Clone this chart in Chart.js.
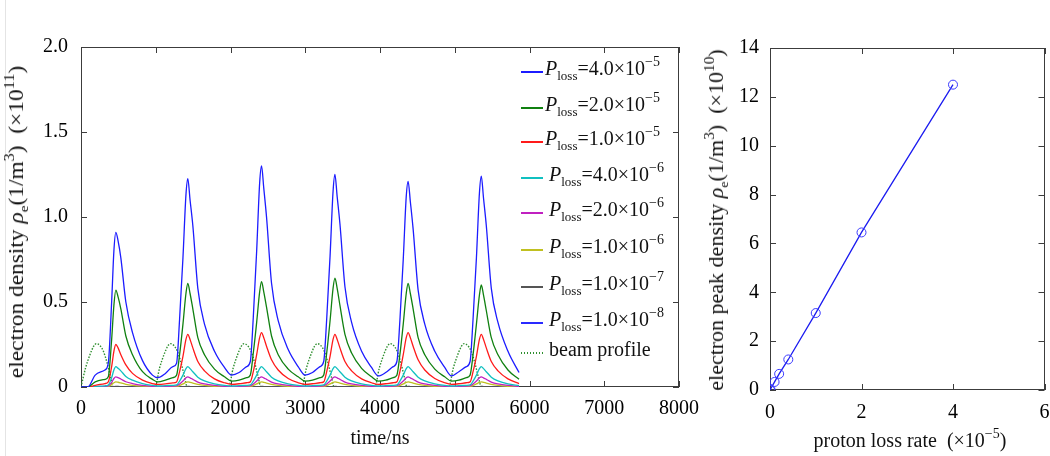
<!DOCTYPE html>
<html>
<head>
<meta charset="utf-8">
<script src="https://cdn.jsdelivr.net/npm/chart.js@4.4.1/dist/chart.umd.min.js"></script>
<style>
  body { margin: 0; background: #fff; }
  #wrap { position: relative; width: 1050px; height: 456px; overflow: hidden; background: #fff;
          font-family: 'Liberation Serif', 'Times New Roman', serif; color: #111; }
  canvas { position: absolute; top: 0; }
  .edge { position: absolute; left: 5px; top: 0; width: 1px; height: 456px; background: #e4e4e4; }
  .title { position: absolute; font-size: 20px; white-space: nowrap; line-height: 20px; }
  .hx { transform: translate(-50%, -50%); }
  sub { font-size: 13px; position: relative; top: 5px; vertical-align: baseline; line-height: 0; }
  sup { font-size: 14px; position: relative; top: -9px; vertical-align: baseline; line-height: 0; }
  .legend-row { position: absolute; font-size: 20px; line-height: 20px; white-space: nowrap; }
  .legend-line { position: absolute; width: 22px; height: 1.5px; }
</style>
</head>
<body>
<div id="wrap">
  <div class="edge"></div>
  <canvas id="densityChart" width="700" height="456" style="left:0"></canvas>
  <canvas id="peakChart" width="350" height="456" style="left:700px"></canvas>
  <div class="title" style="left:16px; top:222px; transform: translate(-50%, -50%) rotate(-90deg) scaleX(1.17)">electron density <i>ρ</i><sub>e</sub>(1/m<sup>3</sup>) &nbsp;(×10<sup>11</sup>)</div>
  <div class="title hx" style="left:380px; top:437px">time/ns</div>
  <div class="title" style="left:716px; top:220px; transform: translate(-50%, -50%) rotate(-90deg) scaleX(1.1)">electron peak density <i>ρ</i><sub>e</sub>(1/m<sup>3</sup>) &nbsp;(×10<sup>10</sup>)</div>
  <div class="title hx" style="left:910px; top:440px">proton loss rate &nbsp;(×10<sup>−5</sup>)</div>
  <div id="legend"></div>
</div>
<script>
// time axis shared by the electron density curves (ns)
const timeNs = [
  0, 90, 190, 320, 365, 410, 440, 466, 496, 533, 600, 689, 823, 956,
  1029, 1129, 1229, 1279, 1319, 1364, 1404, 1429, 1459, 1496, 1563, 1652, 1786, 1919,
  2015, 2115, 2215, 2265, 2305, 2350, 2390, 2415, 2445, 2482, 2549, 2638, 2772, 2905,
  2997, 3097, 3197, 3247, 3287, 3332, 3372, 3397, 3427, 3464, 3531, 3620, 3754, 3887,
  3976, 4076, 4176, 4226, 4266, 4311, 4351, 4376, 4406, 4443, 4510, 4599, 4733, 4866,
  4955, 5055, 5155, 5205, 5245, 5290, 5330, 5355, 5385, 5422, 5489, 5578, 5712, 5860
];

// electron density (x1e11 1/m^3) for each proton loss rate
const density4e5 = [
  0, 0, 0.07, 0.10, 0.14, 0.50, 0.80, 0.91, 0.86, 0.76, 0.50, 0.32, 0.155, 0.07,
  0.055, 0.08, 0.12, 0.14, 0.40, 0.76, 1.13, 1.225, 1.10, 0.95, 0.58, 0.37, 0.21, 0.115,
  0.07, 0.085, 0.12, 0.15, 0.41, 0.80, 1.20, 1.30, 1.17, 1.00, 0.61, 0.39, 0.22, 0.12,
  0.07, 0.085, 0.12, 0.15, 0.40, 0.77, 1.15, 1.25, 1.12, 0.96, 0.59, 0.38, 0.21, 0.115,
  0.065, 0.085, 0.12, 0.15, 0.39, 0.75, 1.12, 1.21, 1.09, 0.93, 0.57, 0.37, 0.21, 0.115,
  0.065, 0.09, 0.12, 0.15, 0.40, 0.76, 1.14, 1.24, 1.11, 0.95, 0.58, 0.38, 0.21, 0.085
];
const density2e5 = [
  0, 0, 0.03, 0.045, 0.06, 0.28, 0.48, 0.57, 0.53, 0.46, 0.30, 0.19, 0.09, 0.045,
  0.03, 0.04, 0.055, 0.07, 0.19, 0.37, 0.55, 0.61, 0.55, 0.46, 0.29, 0.19, 0.105, 0.06,
  0.035, 0.04, 0.055, 0.07, 0.20, 0.38, 0.56, 0.62, 0.56, 0.47, 0.30, 0.19, 0.105, 0.06,
  0.035, 0.04, 0.055, 0.07, 0.20, 0.39, 0.58, 0.64, 0.58, 0.48, 0.31, 0.20, 0.11, 0.06,
  0.035, 0.04, 0.055, 0.07, 0.19, 0.37, 0.55, 0.61, 0.55, 0.46, 0.29, 0.19, 0.105, 0.06,
  0.035, 0.04, 0.055, 0.07, 0.19, 0.37, 0.54, 0.60, 0.54, 0.45, 0.29, 0.19, 0.10, 0.045
];
const density1e5 = [
  0, 0, 0.01, 0.02, 0.03, 0.12, 0.21, 0.25, 0.23, 0.19, 0.13, 0.08, 0.04, 0.02,
  0.015, 0.018, 0.024, 0.03, 0.09, 0.18, 0.28, 0.31, 0.28, 0.23, 0.15, 0.095, 0.048, 0.025,
  0.016, 0.019, 0.025, 0.03, 0.09, 0.19, 0.29, 0.32, 0.29, 0.24, 0.16, 0.10, 0.05, 0.025,
  0.016, 0.019, 0.025, 0.03, 0.09, 0.18, 0.28, 0.31, 0.28, 0.23, 0.15, 0.095, 0.048, 0.025,
  0.016, 0.019, 0.025, 0.03, 0.09, 0.19, 0.29, 0.32, 0.29, 0.24, 0.16, 0.10, 0.05, 0.025,
  0.016, 0.019, 0.025, 0.03, 0.09, 0.18, 0.28, 0.31, 0.28, 0.23, 0.15, 0.095, 0.048, 0.02
];
const density4e6 = [
  0, 0, 0.004, 0.007, 0.012, 0.055, 0.10, 0.12, 0.11, 0.095, 0.062, 0.04, 0.02, 0.009,
  0.006, 0.008, 0.01, 0.012, 0.035, 0.07, 0.108, 0.12, 0.108, 0.09, 0.058, 0.036, 0.018, 0.009,
  0.006, 0.008, 0.01, 0.012, 0.035, 0.07, 0.108, 0.12, 0.108, 0.09, 0.058, 0.036, 0.018, 0.009,
  0.006, 0.008, 0.01, 0.012, 0.035, 0.07, 0.108, 0.12, 0.108, 0.09, 0.058, 0.036, 0.018, 0.009,
  0.006, 0.008, 0.01, 0.012, 0.035, 0.07, 0.108, 0.12, 0.108, 0.09, 0.058, 0.036, 0.018, 0.009,
  0.006, 0.008, 0.01, 0.012, 0.035, 0.07, 0.108, 0.12, 0.108, 0.09, 0.058, 0.036, 0.018, 0.008
];
const density2e6 = [
  0, 0, 0.002, 0.0035, 0.006, 0.027, 0.05, 0.06, 0.055, 0.047, 0.031, 0.02, 0.01, 0.0045,
  0.003, 0.004, 0.005, 0.006, 0.018, 0.035, 0.054, 0.06, 0.054, 0.045, 0.029, 0.018, 0.009, 0.0045,
  0.003, 0.004, 0.005, 0.006, 0.018, 0.035, 0.054, 0.06, 0.054, 0.045, 0.029, 0.018, 0.009, 0.0045,
  0.003, 0.004, 0.005, 0.006, 0.018, 0.035, 0.054, 0.06, 0.054, 0.045, 0.029, 0.018, 0.009, 0.0045,
  0.003, 0.004, 0.005, 0.006, 0.018, 0.035, 0.054, 0.06, 0.054, 0.045, 0.029, 0.018, 0.009, 0.0045,
  0.003, 0.004, 0.005, 0.006, 0.018, 0.035, 0.054, 0.06, 0.054, 0.045, 0.029, 0.018, 0.009, 0.004
];
const density1e6 = [
  0, 0, 0.001, 0.0018, 0.003, 0.014, 0.025, 0.03, 0.028, 0.024, 0.016, 0.01, 0.005, 0.0023,
  0.0015, 0.002, 0.0025, 0.003, 0.009, 0.018, 0.027, 0.03, 0.027, 0.023, 0.015, 0.009, 0.0045, 0.0023,
  0.0015, 0.002, 0.0025, 0.003, 0.009, 0.018, 0.027, 0.03, 0.027, 0.023, 0.015, 0.009, 0.0045, 0.0023,
  0.0015, 0.002, 0.0025, 0.003, 0.009, 0.018, 0.027, 0.03, 0.027, 0.023, 0.015, 0.009, 0.0045, 0.0023,
  0.0015, 0.002, 0.0025, 0.003, 0.009, 0.018, 0.027, 0.03, 0.027, 0.023, 0.015, 0.009, 0.0045, 0.0023,
  0.0015, 0.002, 0.0025, 0.003, 0.009, 0.018, 0.027, 0.03, 0.027, 0.023, 0.015, 0.009, 0.0045, 0.002
];
const density1e7 = [
  0, 0, 0.0001, 0.0002, 0.0003, 0.0014, 0.0025, 0.003, 0.0028, 0.0024, 0.0016, 0.001, 0.0005, 0.0002,
  0.00015, 0.0002, 0.00025, 0.0003, 0.0009, 0.0018, 0.0027, 0.003, 0.0027, 0.0023, 0.0015, 0.0009, 0.00045, 0.0002,
  0.00015, 0.0002, 0.00025, 0.0003, 0.0009, 0.0018, 0.0027, 0.003, 0.0027, 0.0023, 0.0015, 0.0009, 0.00045, 0.0002,
  0.00015, 0.0002, 0.00025, 0.0003, 0.0009, 0.0018, 0.0027, 0.003, 0.0027, 0.0023, 0.0015, 0.0009, 0.00045, 0.0002,
  0.00015, 0.0002, 0.00025, 0.0003, 0.0009, 0.0018, 0.0027, 0.003, 0.0027, 0.0023, 0.0015, 0.0009, 0.00045, 0.0002,
  0.00015, 0.0002, 0.00025, 0.0003, 0.0009, 0.0018, 0.0027, 0.003, 0.0027, 0.0023, 0.0015, 0.0009, 0.00045, 0.0002
];
const density1e8 = [
  0, 0, 0, 0, 0, 0.0001, 0.0002, 0.0003, 0.0003, 0.0002, 0.0002, 0.0001, 0, 0,
  0, 0, 0, 0, 0.0001, 0.0002, 0.0003, 0.0003, 0.0003, 0.0002, 0.0002, 0.0001, 0, 0,
  0, 0, 0, 0, 0.0001, 0.0002, 0.0003, 0.0003, 0.0003, 0.0002, 0.0002, 0.0001, 0, 0,
  0, 0, 0, 0, 0.0001, 0.0002, 0.0003, 0.0003, 0.0003, 0.0002, 0.0002, 0.0001, 0, 0,
  0, 0, 0, 0, 0.0001, 0.0002, 0.0003, 0.0003, 0.0003, 0.0002, 0.0002, 0.0001, 0, 0,
  0, 0, 0, 0, 0.0001, 0.0002, 0.0003, 0.0003, 0.0003, 0.0002, 0.0002, 0.0001, 0, 0
];

// beam profile (dotted), own time samples
const beamTime = [
  0, 60, 120, 170, 205, 250, 300, 350, 400, 430,
  990, 1050, 1110, 1160, 1195, 1240, 1290, 1340, 1390, 1420,
  1975, 2035, 2095, 2145, 2180, 2225, 2275, 2325, 2375, 2405,
  2955, 3015, 3075, 3125, 3160, 3205, 3255, 3305, 3355, 3385,
  3930, 3990, 4050, 4100, 4135, 4180, 4230, 4280, 4330, 4360,
  4920, 4980, 5040, 5090, 5125, 5170, 5220, 5270, 5320, 5350
];
const beamValue = [
  0, 0.11, 0.19, 0.24, 0.255, 0.245, 0.21, 0.14, 0.05, 0,
  0, 0.11, 0.19, 0.24, 0.255, 0.245, 0.21, 0.14, 0.05, 0,
  0, 0.11, 0.19, 0.24, 0.255, 0.245, 0.21, 0.14, 0.05, 0,
  0, 0.11, 0.19, 0.24, 0.255, 0.245, 0.21, 0.14, 0.05, 0,
  0, 0.11, 0.19, 0.24, 0.255, 0.245, 0.21, 0.14, 0.05, 0,
  0, 0.11, 0.19, 0.24, 0.255, 0.245, 0.21, 0.14, 0.05, 0
];

// legend text pieces
const lossMantissa = ['4.0', '2.0', '1.0', '4.0', '2.0', '1.0', '1.0', '1.0'];
const lossExponent = ['−5', '−5', '−5', '−6', '−6', '−6', '−7', '−8'];
const lossColors = ['#1c1cff', '#108010', '#ff1a1a', '#10c0c0', '#c020c0', '#c0c020', '#555555', '#2a2aff'];
const beamColor = '#2f8f2f';

// right panel: peak density vs proton loss rate
const lossRate = [0.001, 0.01, 0.1, 0.2, 0.4, 1, 2, 4];          // x1e-5
const peakDensity = [0.003, 0.03, 0.33, 0.66, 1.25, 3.15, 6.45, 12.5]; // x1e10

// tick labels
const densityTicks = [0, 0.5, 1.0, 1.5, 2.0];
const timeTicks = [0, 1000, 2000, 3000, 4000, 5000, 6000, 7000, 8000];
const rateTicks = [0, 2, 4, 6];
const peakTicks = [0, 2, 4, 6, 8, 10, 12, 14];

const serif = 'Liberation Serif';
const tickFont = { family: serif, size: 20 };

Chart.defaults.font.family = serif;
Chart.defaults.font.size = 20;
Chart.defaults.color = '#000000';
Chart.defaults.animation = false;

// MATLAB-like box with inward ticks on all four sides (under the curves)
const boxTicks = {
    id: 'boxTicks',
    beforeDatasetsDraw(chart) {
        const { ctx, chartArea: a, scales } = chart;
        const len = 6;
        ctx.save();
        ctx.strokeStyle = '#3c3c3c';
        ctx.lineWidth = 1;
        ctx.strokeRect(Math.round(a.left) + 0.5, Math.round(a.top) + 0.5,
            Math.round(a.right - a.left) - 1, Math.round(a.bottom - a.top) - 1);
        ctx.beginPath();
        scales.x.ticks.forEach(t => {
            const px = Math.round(scales.x.getPixelForValue(t.value)) + 0.5;
            ctx.moveTo(px, a.bottom); ctx.lineTo(px, a.bottom - len);
            ctx.moveTo(px, a.top); ctx.lineTo(px, a.top + len);
        });
        scales.y.ticks.forEach(t => {
            const py = Math.round(scales.y.getPixelForValue(t.value)) + 0.5;
            ctx.moveTo(a.left, py); ctx.lineTo(a.left + len, py);
            ctx.moveTo(a.right, py); ctx.lineTo(a.right - len, py);
        });
        ctx.stroke();
        ctx.restore();
    }
};

function fixedAxis(size, isX) {
    return function(scale) {
        if (isX) scale.height = size; else scale.width = size;
        scale.paddingLeft = 0; scale.paddingRight = 0;
        scale.paddingTop = 0; scale.paddingBottom = 0;
    };
}

function pairs(xs, ys) {
    return xs.map((x, i) => ({ x: x, y: ys[i] }));
}

const densitySeries = [density4e5, density2e5, density1e5, density4e6, density2e6, density1e6, density1e7, density1e8];

const densityDatasets = densitySeries.map((vals, i) => ({
    label: 'P_loss=' + lossMantissa[i] + '×10^' + lossExponent[i],
    data: pairs(timeNs, vals),
    borderColor: lossColors[i],
    borderWidth: 1.3,
    pointRadius: 0,
    cubicInterpolationMode: 'monotone',
    fill: false
}));
densityDatasets.push({
    label: 'beam profile',
    data: pairs(beamTime, beamValue),
    borderColor: beamColor,
    borderWidth: 1.4,
    borderDash: [1.5, 1.5],
    pointRadius: 0,
    cubicInterpolationMode: 'monotone',
    fill: false
});

const densityChart = new Chart(document.getElementById('densityChart'), {
    type: 'line',
    data: { datasets: densityDatasets },
    options: {
        responsive: false,
        layout: { padding: { top: 47, right: 21, left: 0, bottom: 0 } },
        plugins: { legend: { display: false }, tooltip: { enabled: false } },
        scales: {
            x: {
                type: 'linear', min: 0, max: 8000,
                afterFit: fixedAxis(69, true),
                afterBuildTicks: s => { s.ticks = timeTicks.map(v => ({ value: v })); },
                grid: { display: false, drawTicks: false },
                border: { display: false },
                ticks: { font: tickFont, padding: 10, maxRotation: 0, callback: v => String(v) }
            },
            y: {
                type: 'linear', min: 0, max: 2,
                afterFit: fixedAxis(81, false),
                afterBuildTicks: s => { s.ticks = densityTicks.map(v => ({ value: v })); },
                grid: { display: false, drawTicks: false },
                border: { display: false },
                ticks: { font: tickFont, padding: 13, callback: v => v === 0 ? '0' : v.toFixed(1) }
            }
        }
    },
    plugins: [boxTicks]
});

const peakChart = new Chart(document.getElementById('peakChart'), {
    type: 'line',
    data: {
        datasets: [{
            data: pairs(lossRate, peakDensity),
            borderColor: '#1c1cf0',
            borderWidth: 1.3,
            pointStyle: 'circle',
            pointRadius: 4.5,
            pointBorderWidth: 1,
            pointBorderColor: '#3a3aff',
            pointBackgroundColor: 'rgba(0,0,0,0)',
            tension: 0,
            fill: false
        }]
    },
    options: {
        responsive: false,
        layout: { padding: { top: 48, right: 2, left: 0, bottom: 0 } },
        plugins: { legend: { display: false }, tooltip: { enabled: false } },
        scales: {
            x: {
                type: 'linear', min: 0, max: 6,
                afterFit: fixedAxis(66, true),
                afterBuildTicks: s => { s.ticks = rateTicks.map(v => ({ value: v })); },
                grid: { display: false, drawTicks: false },
                border: { display: false },
                ticks: { font: tickFont, padding: 11, maxRotation: 0 }
            },
            y: {
                type: 'linear', min: 0, max: 14,
                afterFit: fixedAxis(70, false),
                afterBuildTicks: s => { s.ticks = peakTicks.map(v => ({ value: v })); },
                grid: { display: false, drawTicks: false },
                border: { display: false },
                ticks: { font: tickFont, padding: 11 }
            }
        }
    },
    plugins: [boxTicks]
});

// legend with sub/superscripts, built from the chart datasets
const legend = document.getElementById('legend');
const rowLineY = [72, 108, 142, 178, 213, 250, 287, 323, 353];
densityChart.data.datasets.forEach((ds, i) => {
    const line = document.createElement('div');
    line.className = 'legend-line';
    line.style.left = '521px';
    line.style.top = (rowLineY[i] - 1) + 'px';
    if (ds.borderDash) {
        line.style.backgroundImage = 'repeating-linear-gradient(90deg, ' + ds.borderColor + ' 0 1.5px, transparent 1.5px 3px)';
    } else {
        line.style.backgroundColor = ds.borderColor;
    }
    legend.appendChild(line);

    const row = document.createElement('div');
    row.className = 'legend-row';
    row.style.left = (i < 3 ? 545 : 549) + 'px';
    row.style.top = (rowLineY[i] - 14) + 'px';
    if (i < lossMantissa.length) {
        row.innerHTML = '<i>P</i><sub>loss</sub>=' + lossMantissa[i] + '×10<sup>' + lossExponent[i] + '</sup>';
    } else {
        row.textContent = ds.label;
    }
    legend.appendChild(row);
});
</script>
</body>
</html>
